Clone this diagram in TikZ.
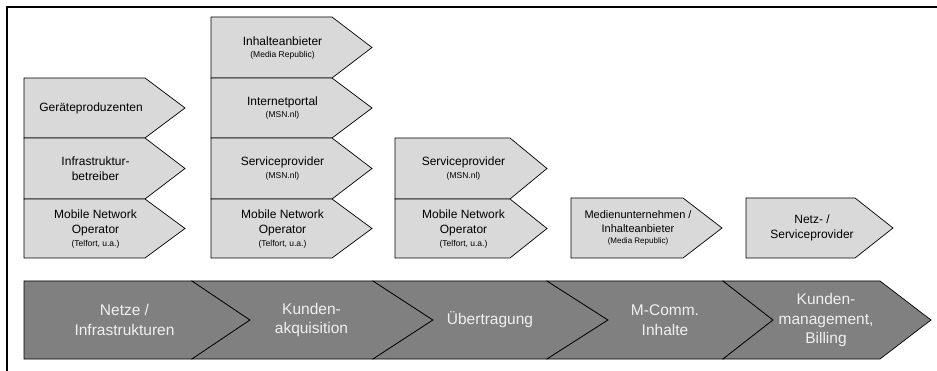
\documentclass[tikz,border=0pt]{standalone}
\usepackage{fontspec}
\setmainfont{Liberation Sans}
\definecolor{boxfill}{HTML}{D9D9D9}
\definecolor{chevfill}{HTML}{808080}
\definecolor{chevtext}{HTML}{F0F0F0}
\newcommand\pentbox[5]{\draw[topbox] (#1,#4) -- (#2,#4) -- (#3,{(#4+#5)/2}) -- (#2,#5) -- (#1,#5) -- cycle;}
\newcommand\chevbox[6]{\draw[chev] (#1,#5) -- (#3,#5) -- (#4,{(#5+#6)/2}) -- (#3,#6) -- (#1,#6) -- (#2,{(#5+#6)/2}) -- cycle;}
\tikzset{
  topbox/.style={fill=boxfill, draw=black, line width=0.7pt, line join=miter},
  chev/.style={fill=chevfill, draw=black, line width=0.7pt, line join=miter},
  toplab/.style={align=center, inner sep=0pt, font=\fontsize{12}{15.5}\selectfont},
  chevlab/.style={align=center, inner sep=0pt, text=chevtext, font=\fontsize{15.5}{19.5}\selectfont},
  frameline/.style={line width=2pt, black},
}
\newcommand\sm[1]{{\fontsize{8.5}{10}\selectfont #1}}
\begin{document}
\begin{tikzpicture}[x=1pt,y=-1pt]
\useasboundingbox (0,0) rectangle (937,371);
\draw[frameline] (6.5,371) -- (6.5,7) -- (937,7);
% column 1
\pentbox{24}{145}{185}{78}{138}
\pentbox{24}{145}{185}{138}{199}
\pentbox{24}{145}{185}{199}{258}
\node[toplab] (c1a) at (91,108) {Geräteproduzenten};
\node[toplab] (c1b) at (95.5,168.5) {Infrastruktur-\\betreiber};
\node[toplab] (c1c) at (95.5,229) {Mobile Network\\Operator\\[-3pt]\sm{(Telfort, u.a.)}};
% column 2
\pentbox{211}{332}{372}{17}{78}
\pentbox{211}{332}{372}{78}{138}
\pentbox{211}{332}{372}{138}{199}
\pentbox{211}{332}{372}{199}{258}
\node[toplab] (c2a) at (282.5,48) {Inhalteanbieter\\[-3pt]\sm{(Media Republic)}};
\node[toplab] (c2b) at (282.5,108) {Internetportal\\[-3pt]\sm{(MSN.nl)}};
\node[toplab] (c2c) at (282.5,168.5) {Serviceprovider\\[-3pt]\sm{(MSN.nl)}};
\node[toplab] (c2d) at (282.5,229) {Mobile Network\\Operator\\[-3pt]\sm{(Telfort, u.a.)}};
% column 3
\pentbox{395}{510}{547}{138}{199}
\pentbox{395}{510}{547}{199}{258}
\node[toplab] (c3a) at (463.5,168.5) {Serviceprovider\\[-3pt]\sm{(MSN.nl)}};
\node[toplab] (c3b) at (463.5,229) {Mobile Network\\Operator\\[-3pt]\sm{(Telfort, u.a.)}};
% column 4
\pentbox{571}{683}{722}{198}{258}
\node[toplab, font=\fontsize{11}{14}\selectfont] (c4a) at (638,228) {Medienunternehmen /\\Inhalteanbieter\\[-3pt]{\fontsize{8}{9.5}\selectfont (Media Republic)}};
% column 5
\pentbox{746}{855}{893}{198}{258}
\node[toplab] (c5a) at (812,228) {Netz- /\\Serviceprovider};
% bottom chevrons
\draw[chev] (24,281) -- (192,281) -- (250,320) -- (192,359) -- (24,359) -- cycle;
\chevbox{192}{250}{373}{433}{281}{359}
\chevbox{373}{433}{547}{608}{281}{359}
\chevbox{547}{608}{723}{773}{281}{359}
\chevbox{723}{773}{880}{931}{281}{359}
\node[chevlab] (v1) at (124.5,320) {Netze /\\Infrastrukturen};
\node[chevlab] (v2) at (311.5,320) {Kunden-\\akquisition};
\node[chevlab] (v3) at (490,320) {Übertragung};
\node[chevlab] (v4) at (665,320) {M-Comm.\\Inhalte};
\node[chevlab] (v5) at (826,320) {Kunden-\\management,\\Billing};
\end{tikzpicture}
\end{document}
